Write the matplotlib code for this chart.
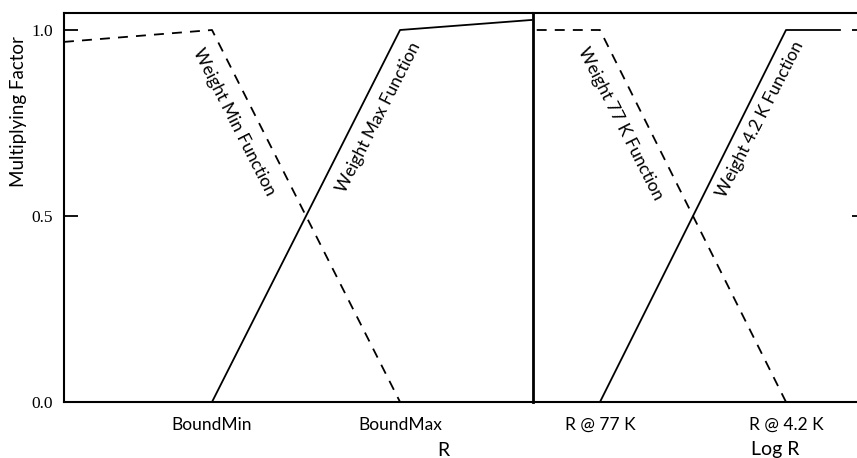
import matplotlib.pyplot as plt

plt.rcParams['font.family'] = ['Lato', 'DejaVu Sans']

# Left panel: weight functions against R (BoundMin = 1, BoundMax = 2)
left_x_min = [0.213, 1.0, 2.0]
left_y_min = [0.968, 1.0, 0.0]
left_x_max = [1.0, 2.0, 2.70]
left_y_max = [0.0, 1.0, 1.027]
left_ticks = [1.0, 2.0]
left_ticklabels = ['BoundMin', 'BoundMax']

# Right panel: weight functions against log R (R @ 77 K = 1, R @ 4.2 K = 2)
right_x_77 = [0.66, 1.0, 2.0]
right_y_77 = [1.0, 1.0, 0.0]
right_x_42 = [1.0, 2.0, 2.29]
right_y_42 = [0.0, 1.0, 1.0]
right_ticks = [1.0, 2.0]
right_ticklabels = ['R @ 77 K', 'R @ 4.2 K']

y_ticks = [0.0, 0.5, 1.0]
y_ticklabels = ['0.0', '0.5', '1.0']

W, H = 857, 458
fig = plt.figure(figsize=(W / 100, H / 100), dpi=100)

bottom = (H - 402) / H
height = (402 - 13) / H
axL = fig.add_axes([64 / W, bottom, (533 - 64) / W, height])
axR = fig.add_axes([533 / W, bottom, (866 - 533) / W, height])

dash = (0, (5.5, 4.5))
lw = 1.3

axL.plot(left_x_min, left_y_min, color='black', lw=lw, linestyle=dash)
axL.plot(left_x_max, left_y_max, color='black', lw=lw)
axR.plot(right_x_77, right_y_77, color='black', lw=lw, linestyle=dash)
axR.plot(right_x_42, right_y_42, color='black', lw=lw)

axL.set_xlim(0.213, 2.707)
axR.set_xlim(0.640, 2.43)
ymax = (402 - 13) / 372
for ax in (axL, axR):
    ax.set_ylim(0, ymax)
    for s in ax.spines.values():
        s.set_linewidth(1.5)

# the divider between panels is drawn by the right panel's left spine
axL.spines['right'].set_visible(False)
axR.spines['left'].set_linewidth(2.0)

# x tick labels sit under the break points, no tick marks
axL.set_xticks(left_ticks)
axL.set_xticklabels(left_ticklabels)
axR.set_xticks(right_ticks)
axR.set_xticklabels(right_ticklabels)
for ax in (axL, axR):
    ax.tick_params(axis='x', length=0, pad=11, labelsize=12.5)

axL.set_yticks(y_ticks)
axL.set_yticklabels(y_ticklabels, fontfamily='Liberation Serif', fontsize=12.5)
axL.tick_params(axis='y', direction='in', length=10, width=1.3, pad=8)
axR.set_yticks(y_ticks)
axR.tick_params(axis='y', direction='in', length=10, width=1.3,
                left=False, labelleft=False, right=True, labelright=False)

# rotated line labels
lab = dict(fontsize=12.5, ha='center', va='center', rotation_mode='anchor')
fig.text(234 / W, 1 - 122 / H, 'Weight Min Function', rotation=-63, **lab)
fig.text(379 / W, 1 - 117 / H, 'Weight Max Function', rotation=63, **lab)
fig.text(620 / W, 1 - 124 / H, 'Weight 77 K Function', rotation=-63, **lab)
fig.text(760 / W, 1 - 119 / H, 'Weight 4.2 K Function', rotation=63, **lab)

fig.text(19 / W, 1 - 112 / H, 'Multiplying Factor', rotation=90,
         fontsize=13.5, ha='center', va='center')
fig.text(443 / W, 1 - 450 / H, 'R', fontsize=14, ha='center', va='center')
fig.text(775 / W, 1 - 450 / H, 'Log R', fontsize=14, ha='center', va='center')

fig.savefig('out.png', dpi=100)
